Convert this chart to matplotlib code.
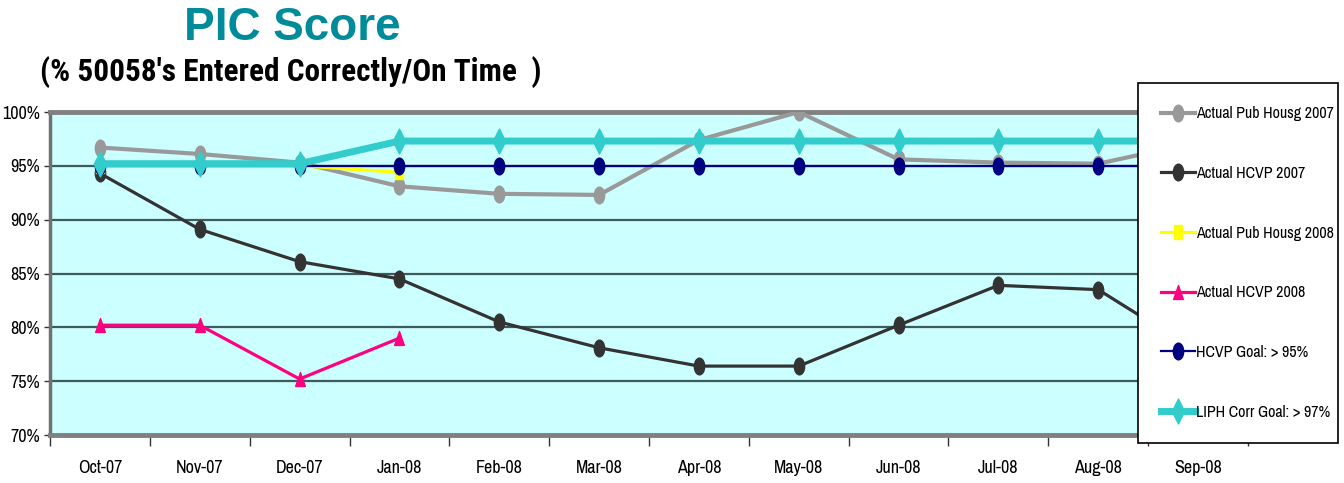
import matplotlib
matplotlib.use("Agg")
import matplotlib.pyplot as plt
from matplotlib.path import Path
from matplotlib.transforms import Affine2D
from matplotlib import font_manager

# ---- data -------------------------------------------------------------
months = ["Oct-07", "Nov-07", "Dec-07", "Jan-08", "Feb-08", "Mar-08",
          "Apr-08", "May-08", "Jun-08", "Jul-08", "Aug-08", "Sep-08"]

pub_housg_2007 = [96.7, 96.1, 95.3, 93.1, 92.4, 92.3, 97.4, 100.0, 95.6, 95.3, 95.2, 97.2]
hcvp_2007 = [94.3, 89.1, 86.1, 84.5, 80.5, 78.1, 76.4, 76.4, 80.2, 83.9, 83.5, 77.7]
pub_housg_2008 = [95.0, 95.0, 95.0, 94.4]
hcvp_2008 = [80.2, 80.2, 75.2, 79.0]
hcvp_goal = [95.0] * 12
liph_goal = [95.2, 95.2, 95.2, 97.3, 97.3, 97.3, 97.3, 97.3, 97.3, 97.3, 97.3, 97.3]

y_ticks = [70, 75, 80, 85, 90, 95, 100]

# ---- fonts --------------------------------------------------------------
fonts = font_manager.fontManager.ttflist
available = {f.name for f in fonts}
bold_available = {f.name for f in fonts if f.weight in (700, "bold")}


def pick(cands, pool):
    for c in cands:
        if c in pool:
            return c
    return "Liberation Sans"


narrow = pick(["Liberation Sans Narrow", "Archivo Narrow", "Roboto Condensed",
               "Sofia Sans Condensed", "Asap Condensed"], available)
narrow_bold = pick(["Liberation Sans Narrow", "Roboto Condensed", "Archivo Narrow",
                    "Asap Condensed", "Sofia Sans Condensed"], bold_available)
plt.rcParams["font.family"] = [narrow, "DejaVu Sans"]

# ---- tall marker shapes ------------------------------------------------
ellipse = Path.unit_circle().transformed(Affine2D().scale(0.62, 1.0))
diamond = Path([(0, 1), (0.5, 0), (0, -1), (-0.5, 0), (0, 1)],
               [Path.MOVETO, Path.LINETO, Path.LINETO, Path.LINETO, Path.CLOSEPOLY])
triangle = Path([(0, 1), (0.7, -1), (-0.7, -1), (0, 1)],
                [Path.MOVETO, Path.LINETO, Path.LINETO, Path.CLOSEPOLY])
rect = Path([(-0.6, -1), (0.6, -1), (0.6, 1), (-0.6, 1), (-0.6, -1)],
            [Path.MOVETO, Path.LINETO, Path.LINETO, Path.LINETO, Path.CLOSEPOLY])

# ---- figure -----------------------------------------------------------
W, H = 1344, 483
fig = plt.figure(figsize=(W / 100, H / 100), dpi=100)
left, right, top, bottom = 50, 1248, 112, 435
ax = fig.add_axes([left / W, 1 - bottom / H, (right - left) / W, (bottom - top) / H])
ax.set_facecolor("#CCFFFF")

x = list(range(len(months)))

ax.plot(x, pub_housg_2007, color="#999999", lw=3.0, marker=ellipse, ms=12,
        mfc="#999999", mec="#999999", label="Actual Pub Housg 2007", zorder=3)
ax.plot(x, hcvp_2007, color="#333333", lw=2.3, marker=ellipse, ms=12,
        mfc="#333333", mec="#333333", label="Actual HCVP 2007", zorder=3)
ax.plot(x[:len(pub_housg_2008)], pub_housg_2008, color="#FFFF00", lw=2.3,
        marker=rect, ms=10, mfc="#FFFF00", mec="#FFFF00",
        label="Actual Pub Housg 2008", zorder=4)
ax.plot(x[:len(hcvp_2008)], hcvp_2008, color="#FF0080", lw=2.3,
        marker=triangle, ms=10, mfc="#FF0080", mec="#FF0080",
        label="Actual HCVP 2008", zorder=4)
ax.plot(x, hcvp_goal, color="#000080", lw=1.6, marker=ellipse, ms=12,
        mfc="#000080", mec="#000080", label="HCVP Goal: > 95%", zorder=5)
ax.plot(x, liph_goal, color="#33CCCC", lw=5.0, marker=diamond, ms=18,
        mfc="#33CCCC", mec="#33CCCC", label="LIPH Corr Goal: > 97%", zorder=6)

ax.set_xlim(-0.5, len(months) - 0.5)
ax.set_ylim(70, 100)
ax.set_yticks(y_ticks)
ax.set_yticklabels([f"{v}%" for v in y_ticks], fontsize=13)
ax.yaxis.grid(True, color="#3F5A5A", lw=1.6)
ax.set_axisbelow(True)

# category boundaries carry the tick marks, labels sit at the centres
ax.set_xticks([i - 0.5 for i in range(len(months) + 1)])
ax.set_xticklabels([])
ax.set_xticks(x, minor=True)
ax.set_xticklabels(months, minor=True, fontsize=13)
ax.tick_params(axis="x", which="major", length=8, width=1, color="#333333")
ax.tick_params(axis="x", which="minor", length=0, pad=18)
ax.tick_params(axis="y", length=4, width=1, color="#333333", pad=3)

for side in ("top", "bottom"):
    ax.spines[side].set_color("#808080")
    ax.spines[side].set_linewidth(3.5)
ax.spines["left"].set_color("#707070")
ax.spines["left"].set_linewidth(2.5)
ax.spines["right"].set_visible(False)

# ---- titles -----------------------------------------------------------
fig.text(292 / W, 1 - 28 / H, "PIC Score", color="#008B9B", fontsize=33,
         fontweight="bold", family=["Liberation Sans", "DejaVu Sans"],
         ha="center", va="center")
fig.text(40 / W, 1 - 72 / H, "(% 50058's Entered Correctly/On Time  )",
         color="black", fontsize=22.5, fontweight="bold",
         family=[narrow_bold, "DejaVu Sans"], ha="left", va="center")

# ---- legend (fixed-width box at the right edge) ---------------------------
leg_left, leg_top, leg_w, leg_h = 1138, 83, 200, 355
leg = fig.legend(loc="upper left",
                 bbox_to_anchor=(leg_left / W, 1 - (leg_top + leg_h) / H,
                                 leg_w / W, leg_h / H),
                 mode="expand", fontsize=11.5, frameon=True, fancybox=False,
                 framealpha=1, edgecolor="black", labelspacing=2.8,
                 handlelength=2.1, handletextpad=0.1, borderpad=1.45,
                 borderaxespad=0)
leg.get_frame().set_linewidth(1.2)

fig.savefig("out.png", dpi=100)
